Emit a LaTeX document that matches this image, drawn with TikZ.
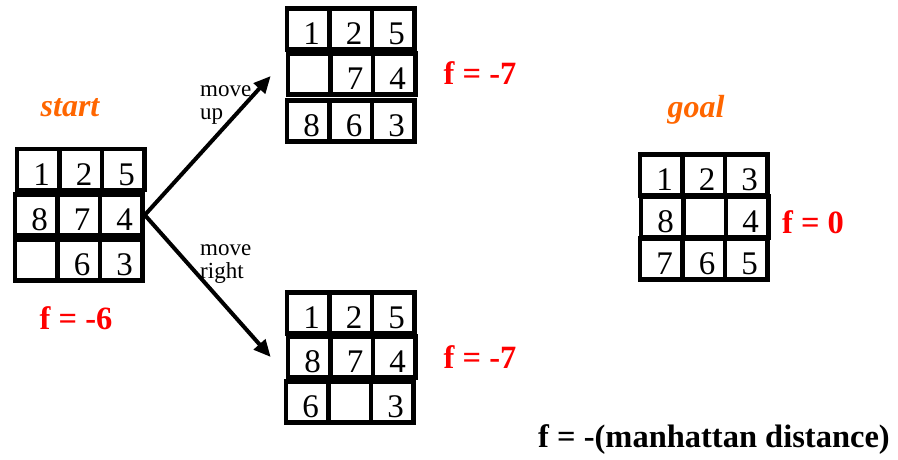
\documentclass[tikz,border=0pt]{standalone}
\usepackage{fontspec}
\setmainfont{Liberation Serif}
\usetikzlibrary{arrows.meta}
\definecolor{lblorange}{HTML}{FF6600}
\definecolor{lblred}{HTML}{FF0000}
\tikzset{
  cell/.style={draw=black, line width=4.6pt, minimum width=42.5pt, minimum height=41pt,
    inner sep=0pt, text width=23pt, align=right, text height=31pt, text depth=0pt,
    font=\fontsize{33}{36}\selectfont},
  heading/.style={text=lblorange, font=\fontsize{32}{35}\selectfont\bfseries\itshape, inner sep=0pt},
  fval/.style={text=lblred, font=\fontsize{32.5}{35}\selectfont\bfseries, inner sep=0pt},
  formula/.style={text=black, font=\fontsize{32.5}{35}\selectfont\bfseries, inner sep=0pt},
  movelbl/.style={font=\fontsize{23}{23}\selectfont, inner sep=0pt, anchor=base west},
  arr/.style={line width=4pt, -{Triangle[length=17pt,width=15pt]}}
}
\newcommand\prow[6]{%
  \node[cell] (#1a) at (#2+21.25,#3) {#4};
  \node[cell] (#1b) at (#2+63.75,#3) {#5};
  \node[cell] (#1c) at (#2+106.25,#3) {#6};
}
\begin{document}
\begin{tikzpicture}[x=1pt,y=-1pt]
\useasboundingbox (0,0) rectangle (898,460);
% start grid
\prow{sA}{17}{169.5}{1}{2}{5}
\prow{sB}{15}{215}{8}{7}{4}
\prow{sC}{15}{260}{}{6}{3}
% top successor
\prow{tA}{287}{29}{1}{2}{5}
\prow{tB}{288}{74}{}{7}{4}
\prow{tC}{287}{121}{8}{6}{3}
% bottom successor
\prow{bA}{287}{313}{1}{2}{5}
\prow{bB}{288}{357}{8}{7}{4}
\prow{bC}{286}{402}{6}{}{3}
% goal
\prow{gA}{640}{175}{1}{2}{3}
\prow{gB}{641}{217}{8}{}{4}
\prow{gC}{640}{259}{7}{6}{5}
% labels
\node[heading] (start) at (70,108) {start};
\node[heading] (goal) at (696,110) {goal};
\node[fval] (fs) at (76,318) {f = -6};
\node[fval] (ft) at (480,73) {f = -7};
\node[fval] (fb) at (480,357) {f = -7};
\node[fval] (fg) at (813,222) {f = 0};
\node[formula] (fm) at (714,440) {f = -(manhattan distance)};
\node[movelbl] (mu1) at (200,97) {move};
\node[movelbl] (mu2) at (200,120) {up};
\node[movelbl] (mr1) at (200,255) {move};
\node[movelbl] (mr2) at (200,278) {right};
% arrows
\coordinate (tipT) at ([xshift=-15pt,yshift=-2pt]tBa.west);
\coordinate (tipB) at ([xshift=-15pt]bBa.west);
\draw[arr] (sBc.east) -- (tipT);
\draw[arr] (sBc.east) -- (tipB);
\end{tikzpicture}
\end{document}
